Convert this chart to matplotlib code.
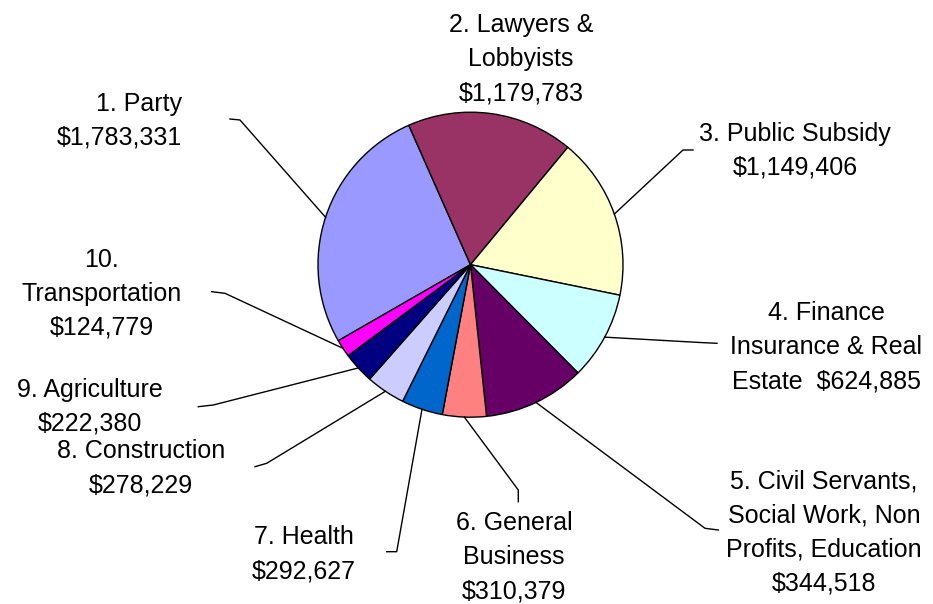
import numpy as np
import matplotlib
matplotlib.use('Agg')
import matplotlib.pyplot as plt

# Data
categories = ['1. Party', '2. Lawyers &\nLobbyists', '3. Public Subsidy',
              '4. Finance\nInsurance & Real\nEstate', '5. Civil Servants,\nSocial Work, Non\nProfits, Education',
              '6. General\nBusiness', '7. Health', '8. Construction', '9. Agriculture', '10.\nTransportation']
amounts = [1783331, 1179783, 1149406, 624885, 344518, 310379, 292627, 278229, 222380, 124779]
# slice sizes as drawn (the Civil Servants slice is drawn about twice its labelled amount)
slice_values = [1783331, 1179783, 1149406, 624885, 720000, 310379, 292627, 278229, 222380, 124779]
colors = ['#9999FF', '#993366', '#FFFFCC', '#CCFFFF', '#660066',
          '#FF8080', '#0066CC', '#CCCCFF', '#000080', '#FF00FF']

W, H = 933, 604

def fy(y):
    # picture rows -> axes y
    return H - y

# label layout: x, baseline of last line, alignment, separator before amount
label_pos = [(182, 145, 'right', '\n'), (521, 100, 'center', '\n'), (795, 175, 'center', '\n'),
             (826, 388, 'center', '  '), (824, 590, 'center', '\n'), (514, 598, 'center', '\n'),
             (304, 578, 'center', '\n'), (141, 492, 'center', '\n'), (90, 431, 'center', '\n'),
             (102, 335, 'center', '\n')]
# leader lines: elbow point and end point near the label (None = no leader)
leaders = [((240, 120), (230, 119)), None, ((683, 150), (693, 150)),
           ((700, 342.5), (717, 343.3)), ((705, 528.3), (718.3, 530)), ((518.3, 490), (518.3, 501.7)),
           ((396.7, 551.7), (386.7, 551.7)), ((266.7, 463.3), (255, 466.7)),
           ((213.3, 405), (198.3, 406.7)), ((225, 293.3), (211.7, 291.7))]

plt.rcParams['font.family'] = ['Liberation Sans', 'DejaVu Sans']

fig = plt.figure(figsize=(W / 100, H / 100), dpi=100)
ax = fig.add_axes([0, 0, 1, 1])

cx, cy, r = 470.5, fy(264.7), 152.5
wedges, _ = ax.pie(slice_values, colors=colors, startangle=209.9, counterclock=False,
                   center=(cx, cy), radius=r,
                   wedgeprops=dict(edgecolor='black', linewidth=1.0))

for i, w in enumerate(wedges):
    text = categories[i] + label_pos[i][3] + '${:,}'.format(amounts[i])
    x, yb, ha, _ = label_pos[i]
    ax.text(x, fy(yb), text, ha=ha, va='baseline', multialignment=ha,
            fontsize=18, linespacing=1.52, color='black')
    if leaders[i] is not None:
        mid = np.deg2rad((w.theta1 + w.theta2) / 2)
        sx, sy = cx + r * np.cos(mid), cy + r * np.sin(mid)
        (ex, ey), (tx, ty) = leaders[i]
        ax.plot([sx, ex, tx], [sy, fy(ey), fy(ty)], color='black', linewidth=1.0)

ax.set_xlim(0, W)
ax.set_ylim(0, H)
ax.set_aspect('equal')
ax.axis('off')

plt.savefig('out.png', dpi=100, facecolor='white')
